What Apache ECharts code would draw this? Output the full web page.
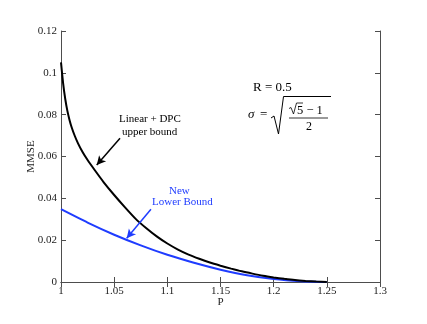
<!DOCTYPE html>
<html lang="en">
<head>
<meta charset="UTF-8">
<title>MMSE bounds</title>
<script src="https://cdn.jsdelivr.net/npm/echarts@6/dist/echarts.min.js"></script>
<style type="text/css">
    body {margin: 0px; background-color: #ffffff;}
</style>
</head>
<body>
<div id="main" style="width: 427px; height: 324px;"></div>
<script type="text/javascript">
// values
var upperP = [1.000, 1.002, 1.004, 1.006, 1.008, 1.010, 1.013, 1.016, 1.020, 1.025, 1.032, 1.040,
    1.050, 1.060, 1.070, 1.080, 1.090, 1.100, 1.110, 1.120, 1.130, 1.140, 1.150, 1.160, 1.170,
    1.180, 1.190, 1.200, 1.210, 1.220, 1.230, 1.240, 1.250];
var upperMMSE = [0.1050, 0.0950, 0.0875, 0.0818, 0.0775, 0.0740, 0.0698, 0.0663, 0.0624, 0.0583, 0.0533, 0.0478,
    0.0416, 0.0358, 0.0303, 0.0258, 0.0218, 0.0184, 0.0155, 0.0131, 0.0111, 0.0093, 0.0078, 0.0064, 0.0051,
    0.0040, 0.0030, 0.0022, 0.0015, 0.0009, 0.0005, 0.0002, 0.0000];
var lowerP = [1.000, 1.025, 1.050, 1.075, 1.100, 1.125, 1.150, 1.175, 1.200, 1.225, 1.250];
var lowerMMSE = [0.0348, 0.0284, 0.0226, 0.0175, 0.0130, 0.0092, 0.0059, 0.0032, 0.0014, 0.0004, 0.0000];

// annotation arrows [from, to] in data units
var upperArrow = [[1.0555, 0.0687], [1.0336, 0.0559]];
var lowerArrow = [[1.0846, 0.0348], [1.0618, 0.0209]];

var serif = '"Liberation Serif", "DejaVu Serif", serif';
var blue = '#1f3cff';
var axisGray = '#4d4d4d';

function pairs(xs, ys) {
    var out = [];
    for (var i = 0; i < xs.length; i++) {
        out.push([xs[i], ys[i]]);
    }
    return out;
}

function arrowLine(arr, color) {
    return {
        silent: true,
        symbol: ['none', 'arrow'],
        symbolSize: [7, 9],
        lineStyle: {color: color, width: 1.5, type: 'solid'},
        label: {show: false},
        emphasis: {disabled: true},
        data: [[{coord: arr[0]}, {coord: arr[1]}]]
    };
}

var tickStyle = {inside: true, length: 5, lineStyle: {color: axisGray}};
var lineStyleAxis = {lineStyle: {color: axisGray, width: 1}};

var myChart = echarts.init(document.getElementById('main'));
var option = {
    animation: false,
    backgroundColor: '#ffffff',
    grid: {left: 61, top: 31, right: 47, bottom: 42},
    xAxis: [{
        type: 'value', min: 1, max: 1.3, interval: 0.05,
        name: 'P', nameLocation: 'middle', nameGap: 15, nameMoveOverlap: false,
        nameTextStyle: {fontFamily: serif, fontSize: 11, color: '#222'},
        axisLine: lineStyleAxis, axisTick: tickStyle, splitLine: {show: false},
        axisLabel: {fontFamily: serif, fontSize: 11, color: '#222', margin: 4,
            formatter: function (v) { return String(+v.toFixed(2)); }}
    }, {
        type: 'value', min: 1, max: 1.3, interval: 0.05, position: 'top',
        axisLine: lineStyleAxis, axisTick: tickStyle, splitLine: {show: false},
        axisLabel: {show: false}
    }],
    yAxis: [{
        type: 'value', min: 0, max: 0.12, interval: 0.02,
        name: 'MMSE', nameLocation: 'middle', nameGap: 24, nameRotate: 90, nameMoveOverlap: false,
        nameTextStyle: {fontFamily: serif, fontSize: 11, color: '#222'},
        axisLine: {show: true, lineStyle: {color: axisGray, width: 1}}, axisTick: tickStyle, splitLine: {show: false},
        axisLabel: {fontFamily: serif, fontSize: 11, color: '#222', margin: 4,
            formatter: function (v) { return String(+v.toFixed(2)); }}
    }, {
        type: 'value', min: 0, max: 0.12, interval: 0.02, position: 'right',
        axisLine: {show: true, lineStyle: {color: axisGray, width: 1}}, axisTick: tickStyle, splitLine: {show: false},
        axisLabel: {show: false}
    }],
    series: [{
        name: 'Linear + DPC upper bound',
        type: 'line',
        data: pairs(upperP, upperMMSE),
        showSymbol: false,
        smooth: 0.2,
        lineStyle: {color: '#000000', width: 2},
        itemStyle: {color: '#000000'},
        emphasis: {disabled: true},
        markLine: arrowLine(upperArrow, '#000000'),
        z: 3
    }, {
        name: 'New Lower Bound',
        type: 'line',
        data: pairs(lowerP, lowerMMSE),
        showSymbol: false,
        smooth: 0.2,
        lineStyle: {color: blue, width: 2},
        itemStyle: {color: blue},
        emphasis: {disabled: true},
        markLine: arrowLine(lowerArrow, blue),
        z: 2
    }],
    graphic: [
        {type: 'text', left: 119, top: 114, style: {text: 'Linear + DPC', font: '11px ' + serif, fill: '#000'}},
        {type: 'text', left: 122, top: 127, style: {text: 'upper bound', font: '11px ' + serif, fill: '#000'}},
        {type: 'text', left: 169, top: 186, style: {text: 'New', font: '11px ' + serif, fill: blue}},
        {type: 'text', left: 152, top: 197, style: {text: 'Lower Bound', font: '11px ' + serif, fill: blue}},
        {type: 'text', left: 253, top: 81, style: {text: 'R = 0.5', font: '13px ' + serif, fill: '#000'}},
        {type: 'text', left: 248, top: 108, style: {text: 'σ', font: 'italic 13px ' + serif, fill: '#000'}},
        {type: 'text', left: 260, top: 108, style: {text: '=', font: '13px ' + serif, fill: '#000'}},
        {type: 'polyline', shape: {points: [[271, 118], [274, 116], [278.5, 134], [283.5, 96.5], [331, 96.5]]},
            style: {stroke: '#000', lineWidth: 1, fill: null}},
        {type: 'polyline', shape: {points: [[289, 108.5], [291, 107.5], [293.5, 114], [296.5, 103], [303, 103]]},
            style: {stroke: '#000', lineWidth: 0.8, fill: null}},
        {type: 'text', left: 297, top: 104, style: {text: '5 − 1', font: '12.5px ' + serif, fill: '#000'}},
        {type: 'line', shape: {x1: 289, y1: 118, x2: 328, y2: 118}, style: {stroke: '#000', lineWidth: 0.8}},
        {type: 'text', left: 306, top: 121, style: {text: '2', font: '12px ' + serif, fill: '#000'}}
    ]
};
myChart.setOption(option);
</script>
</body>
</html>
